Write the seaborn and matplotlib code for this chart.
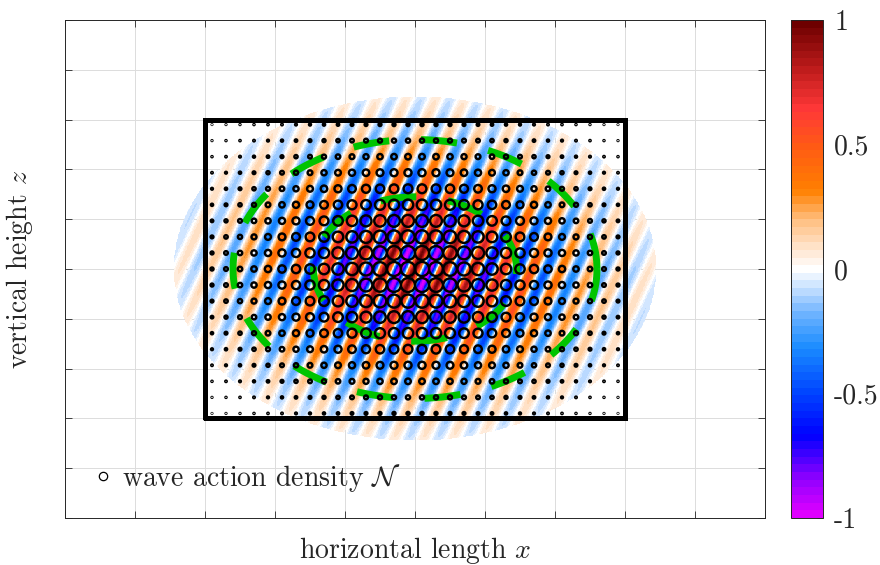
import numpy as np
import pandas as pd
import matplotlib
matplotlib.use("Agg")
import matplotlib.pyplot as plt
from matplotlib.colors import LinearSegmentedColormap
from matplotlib.lines import Line2D
import seaborn as sns

# ---------------- data ----------------
x_ticks = np.arange(0, 11)          # horizontal tick positions (no labels)
z_ticks = np.arange(0, 11)          # vertical tick positions (no labels)
box_x = [2.0, 8.0]                  # black box
box_z = [2.0, 8.0]
packet_center = [5.0, 5.0]
grid_x = np.linspace(2.1, 7.9, 30)  # ray / particle columns
grid_z = np.linspace(2.1, 7.9, 19)  # ray / particle rows
wavelength_x = 0.42                 # horizontal wavelength of the packet
wavelength_z = 1.26                 # vertical wavelength of the packet
envelope_width = 1.5                # gaussian width of the buoyancy field
field_radius = 3.45                 # extent of the plotted field
action_width = 1.65                 # gaussian width of wave action density
green_radii = [1.45, 2.6]           # dashed green circles
cbar_ticks = [-1, -0.5, 0, 0.5, 1]
cbar_labels = ["-1", "-0.5", "0", "0.5", "1"]
cmap_values = [-1.0, -0.85, -0.68, -0.5, -0.32, -0.18, -0.08, 0.0,
               0.08, 0.2, 0.32, 0.5, 0.65, 0.8, 1.0]
cmap_colors = ["#e000ff", "#8c00ff", "#0000ff", "#0046ff", "#1a8cff", "#70b4ff",
               "#c6e0ff", "#ffffff", "#ffe6d0", "#ffbf80", "#ff8000", "#ff5a14",
               "#ff3838", "#c41e1e", "#6e0000"]
legend_label = r"wave action density $\mathcal{N}$"

# ---------------- style ----------------
sns.set_theme(style="white")
plt.rcParams["font.family"] = ["cmr10", "DejaVu Serif"]
plt.rcParams["mathtext.fontset"] = "cm"
plt.rcParams["axes.formatter.use_mathtext"] = True
plt.rcParams["axes.unicode_minus"] = False

fig = plt.figure(figsize=(8.8, 5.65), dpi=100)
ax = fig.add_axes([65 / 880, 47 / 565, 700 / 880, 498 / 565])
cax = fig.add_axes([791 / 880, 47 / 565, 32 / 880, 498 / 565])

# ---------------- field ----------------
pos = [(v + 1) / 2 for v in cmap_values]
cmap = LinearSegmentedColormap.from_list("wave", list(zip(pos, cmap_colors)), N=65)

xf = np.linspace(1.4, 8.6, 721)
zf = np.linspace(1.4, 8.6, 721)
X, Z = np.meshgrid(xf, zf)
dx = X - packet_center[0]
dz = Z - packet_center[1]
R = np.sqrt(dx ** 2 + dz ** 2)
phase = 2 * np.pi * dx / wavelength_x - 2 * np.pi * dz / wavelength_z
F = np.exp(-R ** 2 / (2 * envelope_width ** 2)) * np.cos(phase)
F[R > field_radius] = np.nan
F[np.abs(F) < 0.02] = np.nan

im = ax.imshow(F, extent=[xf[0], xf[-1], zf[0], zf[-1]], origin="lower",
               cmap=cmap, vmin=-1, vmax=1, aspect="auto",
               interpolation="nearest", zorder=1)

# ---------------- green dashed circles ----------------
theta = np.linspace(0, 2 * np.pi, 600)
for rad in green_radii:
    ax.plot(packet_center[0] + rad * np.cos(theta),
            packet_center[1] + rad * np.sin(theta),
            color="#00c400", lw=5.0, dashes=(5.2, 4.6),
            dash_capstyle="butt", zorder=3)

# ---------------- wave action density circles ----------------
GX, GZ = np.meshgrid(grid_x, grid_z)
Ngrid = np.exp(-((GX - packet_center[0]) ** 2 + (GZ - packet_center[1]) ** 2)
               / action_width ** 2)
df = pd.DataFrame({"x": GX.ravel(), "z": GZ.ravel(), "N": Ngrid.ravel()})
sns.scatterplot(data=df, x="x", y="z", size="N", sizes=(0, 105), size_norm=(0, 1),
                marker="o", facecolors="none", edgecolor="black", linewidth=1.75,
                legend=False, ax=ax, zorder=4)

# ---------------- black box ----------------
ax.plot([box_x[0], box_x[1], box_x[1], box_x[0], box_x[0]],
        [box_z[0], box_z[0], box_z[1], box_z[1], box_z[0]],
        color="black", lw=3.6, solid_joinstyle="miter", zorder=5)

# ---------------- axes ----------------
ax.set_xlim(x_ticks[0], x_ticks[-1])
ax.set_ylim(z_ticks[0], z_ticks[-1])
ax.set_xticks(x_ticks)
ax.set_yticks(z_ticks)
ax.set_xticklabels([])
ax.set_yticklabels([])
ax.tick_params(direction="in", length=5, width=0.6, color="#262626",
               top=True, right=True, bottom=True, left=True)
ax.grid(True, color="#dcdcdc", lw=0.7)
ax.set_axisbelow(True)
for sp in ax.spines.values():
    sp.set_color("#262626")
    sp.set_linewidth(0.7)

ax.set_xlabel("horizontal length $x$", fontsize=20, color="#262626")
ax.set_ylabel("vertical height $z$", fontsize=20, color="#262626")
ax.xaxis.set_label_coords(0.5, -0.035)
ax.yaxis.set_label_coords(-0.043, 0.5)

handle = Line2D([], [], marker="o", ls="none", mfc="none", mec="black",
                ms=6, mew=0.9)
ax.legend([handle], [legend_label], loc="center left",
          bbox_to_anchor=(0.044, 0.08), frameon=False, fontsize=20,
          handlelength=0.5, handletextpad=0.45, borderpad=0, borderaxespad=0)

# ---------------- colorbar ----------------
cb = fig.colorbar(im, cax=cax, ticks=cbar_ticks)
cb.ax.set_yticklabels(cbar_labels, fontsize=20, color="#262626")
cb.ax.tick_params(direction="in", length=4, width=0.6, color="#262626", pad=8)
cb.outline.set_linewidth(0.7)
cb.outline.set_edgecolor("#262626")

fig.savefig("out.png", dpi=100)
